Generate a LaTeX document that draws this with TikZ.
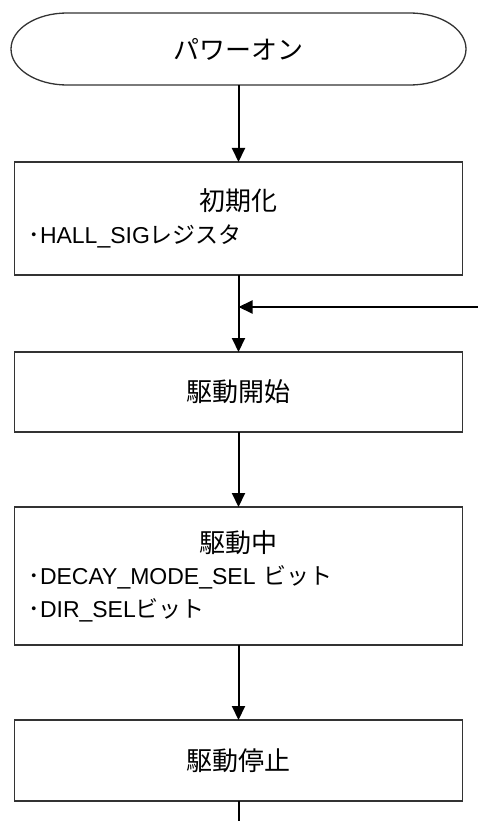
\documentclass[tikz,border=0pt]{standalone}
\usepackage{fontspec}
\setmainfont{Liberation Sans}
\newfontfamily\jpfont{Noto Sans CJK JP}
\usetikzlibrary{arrows.meta,positioning}

\newcommand{\boxtitle}[1]{{\fontsize{26}{32.5}\selectfont\jpfont #1}}
\newcommand{\bulletline}[1]{\makebox[420pt][l]{{\jpfont ･}#1}}

\tikzset{
    flowbox/.style={draw=black!80, line width=1.3pt, minimum width=447.5pt, text width=420.5pt,
        inner xsep=13.5pt, inner ysep=0pt, outer sep=0pt, align=center,
        font=\fontsize{23}{32.5}\selectfont},
    flowline/.style={line width=2pt, -{Triangle[length=14pt,width=13pt]}},
}

\begin{document}
\begin{tikzpicture}[x=1pt, y=-1pt]
    \useasboundingbox (0,0) rectangle (478,821);

    % Start terminal
    \node [minimum width=455pt, minimum height=72pt, inner sep=0pt, outer sep=0pt] (power) at (238.5,49) {\boxtitle{パワーオン}};
    \draw [draw=black!80, line width=1.3pt] ([xshift=56pt]power.north west) -- ([xshift=-56pt]power.north east)
        arc [start angle=90, end angle=-90, x radius=56pt, y radius=36pt]
        -- ([xshift=56pt]power.south west)
        arc [start angle=270, end angle=90, x radius=56pt, y radius=36pt] -- cycle;

    % Process boxes
    \node [flowbox, minimum height=113pt] (init) at (238.5,218.5)
        {\boxtitle{初期化}\\ \bulletline{HALL\_SIG{\jpfont レジスタ}}};
    \node [flowbox, minimum height=80pt] (start) at (238.5,392) {\boxtitle{駆動開始}};
    \node [flowbox, minimum height=138pt] (run) at (238.5,576)
        {\boxtitle{駆動中}\\ \bulletline{DECAY\_MODE\_SEL {\jpfont ビット}}\\ \bulletline{DIR\_SEL{\jpfont ビット}}};
    \node [flowbox, minimum height=81pt] (stop) at (238.5,760.5) {\boxtitle{駆動停止}};

    % Connectors
    \coordinate (loopin) at (478,307);
    \coordinate (tail) at (238.5,821);
    \draw [flowline] (power.south) -- (init.north);
    \draw [flowline] (init.south) -- (start.north);
    \draw [flowline] (loopin) -- (init.south |- loopin);
    \draw [flowline] (start.south) -- (run.north);
    \draw [flowline] (run.south) -- (stop.north);
    \draw [line width=2pt] (stop.south) -- (tail);
\end{tikzpicture}
\end{document}
